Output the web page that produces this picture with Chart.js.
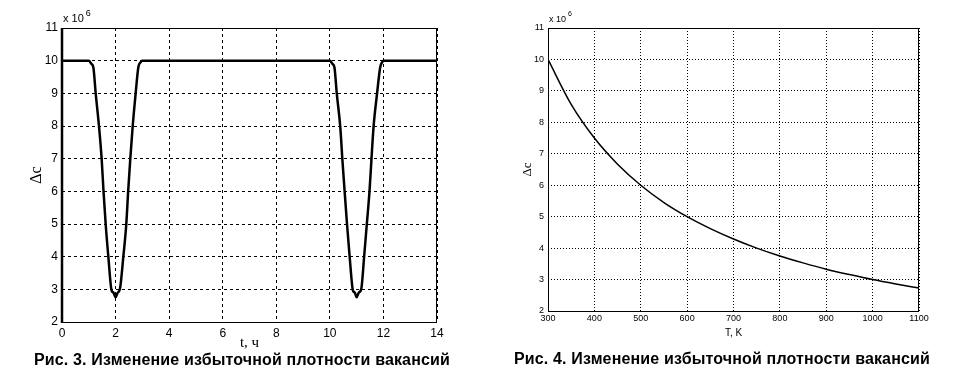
<!DOCTYPE html>
<html lang="ru">
<head>
    <meta charset="UTF-8">
    <title>Рис. 3 и Рис. 4</title>
    <script src="https://cdn.jsdelivr.net/npm/chart.js"></script>
    <style>
        body { margin: 0; background: #fff; width: 965px; height: 377px; position: relative; overflow: hidden; }
        canvas { position: absolute; top: 0; }
        #chart3 { left: 0; }
        #chart4 { left: 480px; }
        .caption { position: absolute; font-family: "Liberation Sans", Arial, sans-serif; font-weight: bold; font-size: 16px; letter-spacing: 0.15px; color: #000; white-space: nowrap; transform: translateX(-50%); }
    </style>
</head>
<body>
    <canvas id="chart3" width="480" height="352"></canvas>
    <canvas id="chart4" width="485" height="352"></canvas>
    <div class="caption" style="left:242px; top:351px;">Рис. 3. Изменение избыточной плотности вакансий</div>
    <div class="caption" style="left:722px; top:350px;">Рис. 4. Изменение избыточной плотности вакансий</div>

    <script>
        // Рис. 3: t, ч  ->  Δc (x 10^6)
        const tHours = [0, 1.0, 1.1, 1.17, 1.26, 1.38, 1.48, 1.55, 1.63, 1.73, 1.85, 1.92, 2.0, 2.08, 2.16, 2.29, 2.40, 2.47, 2.55, 2.64, 2.75, 2.85, 2.93, 3.0,
                        10.0, 10.1, 10.17, 10.26, 10.39, 10.47, 10.55, 10.64, 10.74, 10.86, 10.93, 11.0, 11.08, 11.17, 11.28, 11.38, 11.48, 11.55, 11.63, 11.76, 11.88, 11.95, 12.0, 14];
        const dcTime = [10, 10, 9.9, 9.8, 8.98, 8.0, 7.0, 6.0, 5.0, 4.0, 2.97, 2.9, 2.76, 2.9, 3.0, 4.0, 5.0, 6.0, 7.0, 8.0, 9.0, 9.8, 9.95, 10,
                        10, 9.9, 9.8, 8.98, 7.96, 6.94, 6.02, 5.0, 3.99, 2.97, 2.9, 2.76, 2.9, 3.0, 4.0, 5.0, 6.0, 6.94, 7.96, 8.98, 9.8, 9.95, 10, 10];

        // Рис. 4: T, K  ->  Δc (x 10^6)
        const tempK = [300, 350, 400, 450, 500, 550, 600, 650, 700, 750, 800, 850, 900, 950, 1000, 1050, 1100];
        const dcTemp = [10, 8.57, 7.5, 6.67, 6.0, 5.45, 5.0, 4.62, 4.29, 4.0, 3.75, 3.53, 3.33, 3.16, 3.0, 2.86, 2.73];

        const yTicksMin = 2, yTicksMax = 11;

        Chart.defaults.animation = false;
        Chart.defaults.color = '#000';

        // рамка вокруг области графика и множитель x10^6
        const framePlugin = {
            id: 'frame',
            afterDraw(chart, args, opts) {
                const a = chart.chartArea;
                const ctx = chart.ctx;
                ctx.save();
                ctx.strokeStyle = '#000';
                ctx.lineWidth = 1;
                ctx.strokeRect(a.left + 0.5, a.top + 0.5, a.right - a.left - 1, a.bottom - a.top);
                if (opts.leftWidth > 1) {
                    ctx.lineWidth = opts.leftWidth;
                    ctx.beginPath();
                    ctx.moveTo(a.left, a.top);
                    ctx.lineTo(a.left, a.bottom + 1);
                    ctx.stroke();
                }
                ctx.fillStyle = '#000';
                ctx.textBaseline = 'alphabetic';
                ctx.font = opts.font;
                ctx.fillText('x 10', a.left + 1, a.top - 6);
                const w = ctx.measureText('x 10').width;
                ctx.font = opts.supFont;
                ctx.fillText('6', a.left + 3 + w, a.top - 12);
                ctx.restore();
            }
        };

        function makeChart(id, xs, ys, cfg) {
            const points = xs.map((x, i) => ({ x: x, y: ys[i] }));
            return new Chart(document.getElementById(id), {
                type: 'scatter',
                data: {
                    datasets: [{
                        data: points,
                        showLine: true,
                        borderColor: '#000',
                        borderWidth: cfg.lineWidth,
                        pointRadius: 0,
                        tension: 0.15,
                        cubicInterpolationMode: 'monotone'
                    }]
                },
                options: {
                    responsive: false,
                    devicePixelRatio: 1,
                    layout: { padding: { left: 0, top: 28, right: cfg.padRight, bottom: 0 } },
                    plugins: {
                        legend: { display: false },
                        tooltip: { enabled: false },
                        frame: { leftWidth: cfg.leftWidth, font: cfg.mulFont, supFont: cfg.supFont }
                    },
                    scales: {
                        x: {
                            type: 'linear',
                            min: cfg.xMin, max: cfg.xMax,
                            afterFit: s => { s.height = cfg.xHeight; },
                            ticks: { stepSize: cfg.xStep, padding: cfg.xTickPad, font: cfg.tickFont, maxRotation: 0, autoSkip: false,
                                     callback: v => String(v) },
                            grid: { color: '#000', lineWidth: 1, drawTicks: false },
                            border: { display: false, dash: cfg.dash },
                            title: { display: true, text: cfg.xTitle, font: cfg.xTitleFont, padding: { top: 0, bottom: cfg.xTitlePad } }
                        },
                        y: {
                            min: yTicksMin, max: yTicksMax,
                            afterFit: s => { s.width = cfg.yWidth; },
                            ticks: { stepSize: 1, padding: 4, font: cfg.tickFont, callback: v => String(v) },
                            grid: { color: '#000', lineWidth: 1, drawTicks: false },
                            border: { display: false, dash: cfg.dash },
                            title: { display: true, text: 'Δc', font: cfg.yTitleFont, padding: { top: cfg.yTitlePad, bottom: 0 } }
                        }
                    }
                },
                plugins: [framePlugin]
            });
        }

        makeChart('chart3', tHours, dcTime, {
            lineWidth: 2.5, leftWidth: 2.5, padRight: 43,
            xMin: 0, xMax: 14, xStep: 2, xHeight: 30, xTickPad: 4,
            xTitle: 't, ч', xTitleFont: { family: '"Liberation Serif", serif', size: 15 }, xTitlePad: 0,
            yWidth: 62, yTitleFont: { family: '"Liberation Serif", serif', size: 16 }, yTitlePad: 27,
            tickFont: { family: '"Liberation Sans", Arial, sans-serif', size: 12 },
            mulFont: '11px "Liberation Sans", Arial, sans-serif', supFont: '9px "Liberation Sans", Arial, sans-serif',
            dash: [3, 3]
        });

        makeChart('chart4', tempK, dcTemp, {
            lineWidth: 1.5, leftWidth: 1, padRight: 46,
            xMin: 300, xMax: 1100, xStep: 100, xHeight: 41, xTickPad: 2,
            xTitle: 'T, K', xTitleFont: { family: '"Liberation Sans", Arial, sans-serif', size: 10 }, xTitlePad: 13,
            yWidth: 68, yTitleFont: { family: '"Liberation Serif", serif', size: 13 }, yTitlePad: 40,
            tickFont: { family: '"Liberation Sans", Arial, sans-serif', size: 9 },
            mulFont: '9px "Liberation Sans", Arial, sans-serif', supFont: '7px "Liberation Sans", Arial, sans-serif',
            dash: [1, 2]
        });
    </script>
</body>
</html>
